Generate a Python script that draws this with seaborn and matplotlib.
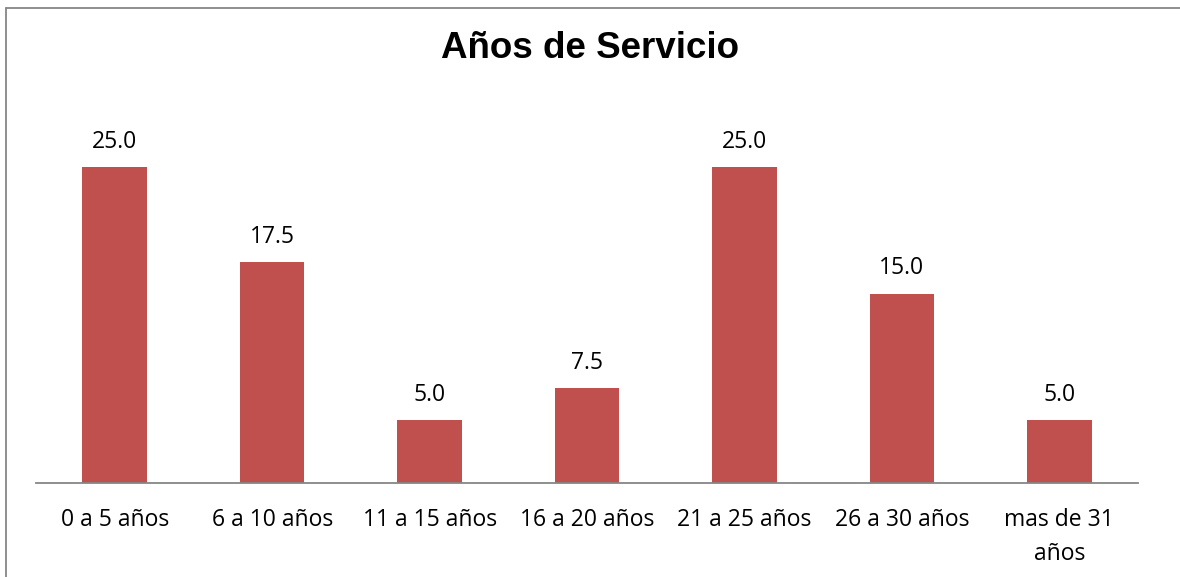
import matplotlib
matplotlib.use("Agg")
import matplotlib.pyplot as plt
import seaborn as sns
import pandas as pd
from matplotlib.lines import Line2D

categories = ["0 a 5 años", "6 a 10 años", "11 a 15 años", "16 a 20 años",
              "21 a 25 años", "26 a 30 años", "mas de 31\naños"]
values = [25.0, 17.5, 5.0, 7.5, 25.0, 15.0, 5.0]
title = "Años de Servicio"

df = pd.DataFrame({"cat": categories, "val": values})

sns.set_theme(style="white")
plt.rcParams['font.family'] = ['Open Sans', 'DejaVu Sans']

W, H = 1180, 577
fig = plt.figure(figsize=(W / 100, H / 100), dpi=100)
ax = fig.add_axes([36 / W, 1 - 483 / H, (1138 - 36) / W, (483 - 104) / H])

sns.barplot(data=df, x="cat", y="val", color="#C0504D", width=0.41,
            saturation=1, ax=ax, edgecolor="none")
ax.set_ylim(0, 30)
ax.set_xlim(-0.5, len(categories) - 0.5)
ax.set_xlabel("")
ax.set_ylabel("")
ax.set_yticks([])
for s in ["top", "right", "left"]:
    ax.spines[s].set_visible(False)
ax.spines["bottom"].set_color("#868686")
ax.spines["bottom"].set_linewidth(1.3)
ax.tick_params(axis="x", length=0, pad=18, labelsize=16.5, colors="black")
for lbl in ax.get_xticklabels():
    lbl.set_linespacing(1.55)

for i, v in enumerate(values):
    ax.text(i, v + 1.05, f"{v:.1f}", ha="center", va="bottom", fontsize=16.5,
            color="black")

fig.text(0.5, 1 - 49 / H, title, ha="center", va="center", fontsize=26.5,
         fontweight="bold", color="black", family=["Liberation Sans", "DejaVu Sans"])

fig.add_artist(Line2D([5.5 / W, 5.5 / W], [0, 1 - 7.5 / H], transform=fig.transFigure,
                      color="#868686", lw=1.3))
fig.add_artist(Line2D([5.5 / W, 1], [1 - 7.5 / H, 1 - 7.5 / H], transform=fig.transFigure,
                      color="#868686", lw=1.3))

fig.savefig("out.png", dpi=100)
